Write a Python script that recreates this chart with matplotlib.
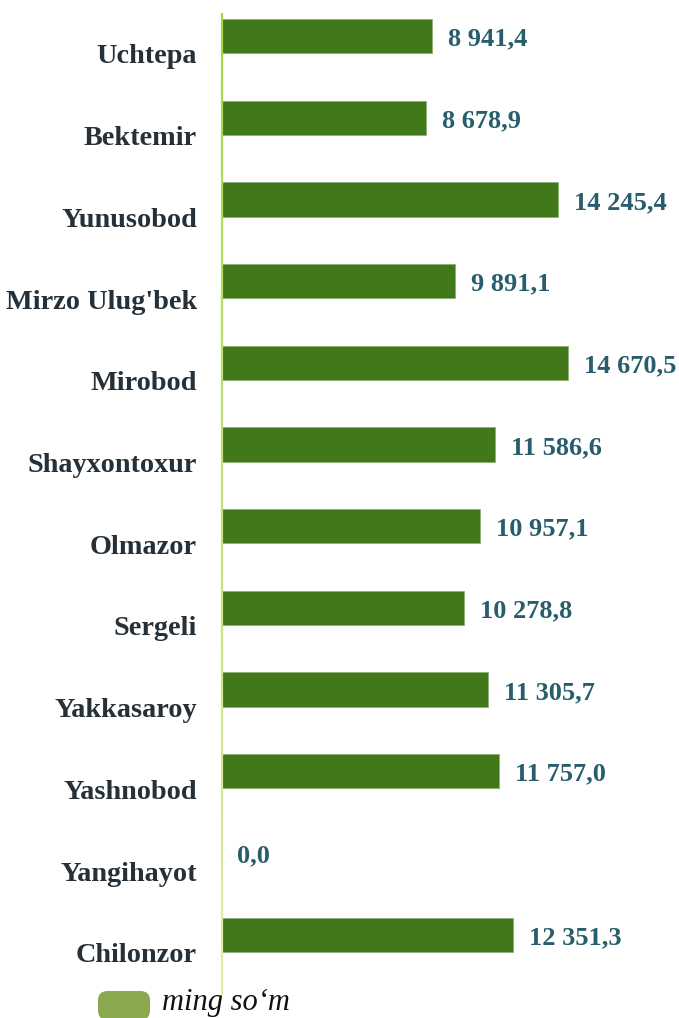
import matplotlib
matplotlib.use("Agg")
import matplotlib.pyplot as plt
import numpy as np
from matplotlib.collections import LineCollection
from matplotlib.patches import FancyBboxPatch
from matplotlib.colors import to_rgb

districts = ["Uchtepa", "Bektemir", "Yunusobod", "Mirzo Ulug'bek", "Mirobod",
             "Shayxontoxur", "Olmazor", "Sergeli", "Yakkasaroy", "Yashnobod",
             "Yangihayot", "Chilonzor"]
values = [8941.4, 8678.9, 14245.4, 9891.1, 14670.5, 11586.6,
          10957.1, 10278.8, 11305.7, 11757.0, 0.0, 12351.3]
legend_label = "ming so\u2018m"

plt.rcParams['font.family'] = ['Liberation Serif', 'DejaVu Serif']

W, H = 679, 1018
fig = plt.figure(figsize=(W / 100, H / 100), dpi=100)
# axes: left edge at the green axis line, spans to right edge
ax = fig.add_axes([221 / W, 1 - 995 / H, 1 - 221 / W, 982 / H])

y = np.arange(len(districts))
ax.barh(y, values, height=0.42, color='#41781a', edgecolor='#8fb070', linewidth=0.6)

ax.set_xlim(0, 19363)
ax.set_ylim(11.738, -0.2815)
ax.axis('off')


def fmt(v):
    s = f"{v:,.1f}"
    return s.replace(",", " ").replace(".", ",")


for i, (name, v) in enumerate(zip(districts, values)):
    ax.annotate(name, xy=(0, i), xycoords=('axes fraction', 'data'),
                xytext=(-24, -21), textcoords='offset pixels',
                ha='right', va='center', fontsize=20.3, fontweight='bold',
                color='#253038')
    ax.annotate(fmt(v), xy=(v, i), xytext=(16, -3), textcoords='offset pixels',
                ha='left', va='center', fontsize=19, fontweight='bold',
                color='#275d6c')

# gradient axis line
n = 60
ys = np.linspace(1 - 13 / H, 1 - 995 / H, n + 1)
x0 = 221.5 / W
segs = [[(x0, ys[k]), (x0, ys[k + 1])] for k in range(n)]
c1, c2 = np.array(to_rgb('#a8d444')), np.array(to_rgb('#dcefa8'))
cols = [c1 + (c2 - c1) * k / (n - 1) for k in range(n)]
fig.add_artist(LineCollection(segs, colors=cols, linewidths=1.6,
                              transform=fig.transFigure))

# legend
pill = FancyBboxPatch((98 / W, 1 - 1020 / H), 52 / W, 29 / H,
                      boxstyle="round,pad=0,rounding_size=0.014",
                      transform=fig.transFigure, facecolor='#8aa84e',
                      edgecolor='none', mutation_aspect=W / H)
fig.add_artist(pill)
fig.text(162 / W, 1 - 1010 / H, legend_label, ha='left', va='baseline',
         fontsize=22, style='italic', color='#111111')

fig.savefig("out.png", dpi=100)
